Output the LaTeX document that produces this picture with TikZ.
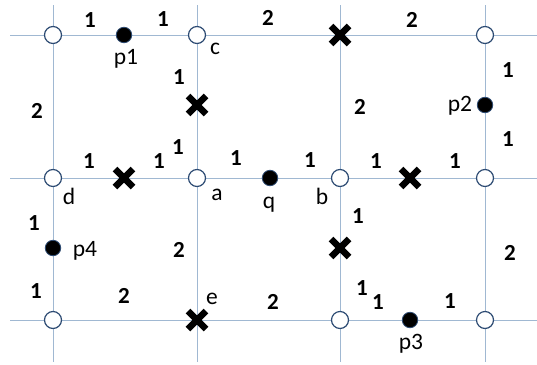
\documentclass[tikz,border=0pt]{standalone}
\usepackage{fontspec}
\setmainfont{Carlito}
\usetikzlibrary{shapes.misc}
\definecolor{gridc}{RGB}{160,184,210}
\definecolor{ringc}{RGB}{45,75,115}
\begin{document}
\begin{tikzpicture}[x=1pt,y=-1pt,
  gridline/.style={draw=gridc,line width=1pt},
  opennode/.style={circle,draw=ringc,fill=white,line width=1.2pt,minimum size=17pt,inner sep=0pt},
  dotnode/.style={circle,draw=ringc,fill=black,line width=0.8pt,minimum size=15.5pt,inner sep=0pt},
  xnode/.style={cross out,draw=black,line width=6.5pt,minimum size=11.5pt,inner sep=0pt},
  wt/.style={font=\fontsize{23}{23}\selectfont\bfseries,inner sep=0pt},
  nm/.style={font=\fontsize{23.5}{23.5}\selectfont,inner sep=0pt}]
\useasboundingbox (0,0) rectangle (537,364);
% grid
\foreach \x in {53,197,340,485} \draw[gridline] (\x,5) -- (\x,362);
\foreach \y in {35,178,320} \draw[gridline] (10,\y) -- (537,\y);
% open nodes
\node[opennode] (tl) at (53,35) {};
\node[opennode] (c) at (197,35) {};
\node[opennode] (tr) at (485,35) {};
\node[opennode] (d) at (53,178) {};
\node[opennode] (a) at (197,178) {};
\node[opennode] (b) at (340,178) {};
\node[opennode] (mr) at (485,178) {};
\node[opennode] (bl) at (53,320) {};
\node[opennode] (bm) at (340,320) {};
\node[opennode] (br) at (485,320) {};
% crosses
\node[xnode] (x1) at (340,35) {};
\node[xnode] (x2) at (197,105) {};
\node[xnode] (x3) at (124,178) {};
\node[xnode] (x4) at (410,178) {};
\node[xnode] (x5) at (340,248) {};
\node[xnode] (e) at (197,320) {};
% points
\node[dotnode] (p1) at (124,35) {};
\node[dotnode] (p2) at (485,105) {};
\node[dotnode] (q) at (270,178) {};
\node[dotnode] (p3) at (410,320) {};
\node[dotnode] (p4) at (53,248) {};
% names
\node[nm] (lp1) at (126,59) {p1};
\node[nm] (lc) at (215,49) {c};
\node[nm] (lp2) at (460,106) {p2};
\node[nm] (ld) at (69,196) {d};
\node[nm] (la) at (217,195) {a};
\node[nm] (lq) at (269,205) {q};
\node[nm] (lb) at (322,196) {b};
\node[nm] (lp4) at (85,251) {p4};
\node[nm] (le) at (212,299) {e};
\node[nm] (lp3) at (411,344) {p3};
% weights
\node[wt] (w1) at (90,20) {1};
\node[wt] (w2) at (163,19) {1};
\node[wt] (w3) at (268,18) {2};
\node[wt] (w4) at (412,20) {2};
\node[wt] (w5) at (179,77) {1};
\node[wt] (w6) at (37,111) {2};
\node[wt] (w7) at (360,107) {2};
\node[wt] (w8) at (508,70) {1};
\node[wt] (w9) at (508,139) {1};
\node[wt] (w10) at (89,161) {1};
\node[wt] (w11) at (159,161) {1};
\node[wt] (w12) at (178,147) {1};
\node[wt] (w13) at (236,158) {1};
\node[wt] (w14) at (310,160) {1};
\node[wt] (w15) at (376,161) {1};
\node[wt] (w16) at (455,161) {1};
\node[wt] (w17) at (34,223) {1};
\node[wt] (w18) at (179,250) {2};
\node[wt] (w19) at (36,291) {1};
\node[wt] (w20) at (124,296) {2};
\node[wt] (w21) at (273,302) {2};
\node[wt] (w22) at (358,216) {1};
\node[wt] (w23) at (510,253) {2};
\node[wt] (w24) at (362,288) {1};
\node[wt] (w25) at (378,302) {1};
\node[wt] (w26) at (450,301) {1};
\end{tikzpicture}
\end{document}
